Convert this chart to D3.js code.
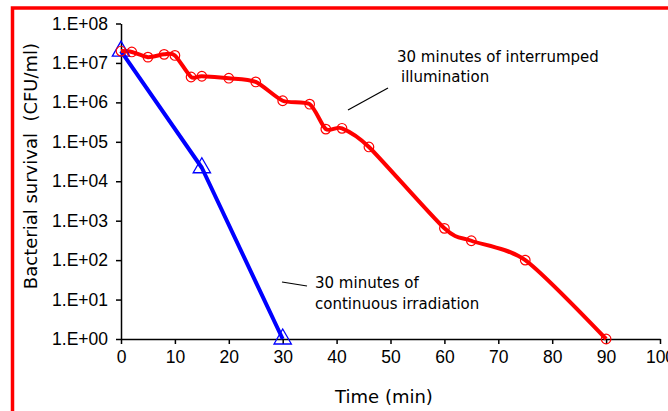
<!DOCTYPE html>
<html lang="en">
<head>
    <meta charset="utf-8">
    <title>Bacterial survival</title>
    <script src="https://d3js.org/d3.v7.min.js" charset="utf-8"></script>
    <style>
        body { margin: 0; background: #fff; }
        svg { display: block; }
    </style>
</head>
<body>

    <script>

    // interrupted illumination (red, circles)
    var redTimes = [0, 2, 5, 8, 10, 13, 15, 20, 25, 30, 35, 38, 41, 46, 60, 65, 75, 90]
    var redValues = [2.0e7, 1.9e7, 1.4e7, 1.65e7, 1.55e7, 4.4e6, 4.6e6, 4.1e6, 3.3e6, 1.1e6, 9.0e5, 2.1e5, 2.2e5, 7.4e4, 640, 310, 100, 1]

    // continuous irradiation (blue, triangles)
    var blueTimes = [0, 15, 30]
    var blueValues = [2.0e7, 2.2e4, 1]

    var xTicks = [0, 10, 20, 30, 40, 50, 60, 70, 80, 90, 100]
    var yTicks = [1e0, 1e1, 1e2, 1e3, 1e4, 1e5, 1e6, 1e7, 1e8]
    var yTickLabels = ["1.E+00", "1.E+01", "1.E+02", "1.E+03", "1.E+04", "1.E+05", "1.E+06", "1.E+07", "1.E+08"]

    var w = 668
    var h = 411

    var svg = d3.select("body").append("svg").attr("width", w).attr("height", h)

    // red frame that runs off the picture
    svg.append("rect").attr("x", 12.5).attr("y", 8).attr("width", 700).attr("height", 500)
        .attr("fill", "none").attr("stroke", "#ff0000").attr("stroke-width", 3.5)

    var x = d3.scaleLinear().domain([0, 100]).range([121, 660])
    var y = d3.scaleLog().domain([1, 1e8]).range([339, 23.5])

    var xAxis = d3.axisBottom(x).tickValues(xTicks).tickSize(5).tickSizeOuter(0).tickPadding(7)
    var yAxis = d3.axisLeft(y).tickValues(yTicks).tickSize(5).tickSizeOuter(0).tickPadding(8)
        .tickFormat(function (d, i) { return yTickLabels[i] })

    svg.append("g").attr("transform", "translate(0,339)").call(xAxis)
    svg.append("g").attr("transform", "translate(121,0)").call(yAxis)

    svg.selectAll(".domain, .tick line").attr("stroke", "#000").attr("stroke-width", 1.5)
    svg.selectAll(".tick text").attr("fill", "#000").attr("font-family", "'Liberation Sans', Arial, sans-serif").attr("font-size", 17.5)

    // axis titles
    svg.append("text").attr("x", 384).attr("y", 403).attr("text-anchor", "middle")
        .attr("font-family", "'DejaVu Sans', Verdana, sans-serif").attr("font-size", 18).text("Time (min)")

    svg.append("text").attr("transform", "translate(37,166) rotate(-90)").attr("text-anchor", "middle")
        .attr("font-family", "'DejaVu Sans', Verdana, sans-serif").attr("font-size", 18)
        .style("white-space", "pre").text("Bacterial survival  (CFU/ml)")

    var redData = redTimes.map(function (t, i) { return {t: t, v: redValues[i]} })
    var blueData = blueTimes.map(function (t, i) { return {t: t, v: blueValues[i]} })

    var line = d3.line()
        .x(function (d) { return x(d.t) })
        .y(function (d) { return y(d.v) })
        .curve(d3.curveCardinal.tension(0.25))

    var blueLine = d3.line()
        .x(function (d) { return x(d.t) })
        .y(function (d) { return y(d.v) })

    svg.append("path").datum(blueData).attr("d", blueLine).attr("fill", "none")
        .attr("stroke", "#0000ff").attr("stroke-width", 4).attr("stroke-linejoin", "round")

    svg.append("path").datum(redData).attr("d", line).attr("fill", "none")
        .attr("stroke", "#ff0000").attr("stroke-width", 4).attr("stroke-linejoin", "round")

    svg.selectAll(".blueMark").data(blueData).enter().append("path")
        .attr("transform", function (d) { return "translate(" + x(d.t) + "," + y(d.v) + ")" })
        .attr("d", d3.symbol().type(d3.symbolTriangle).size(130))
        .attr("fill", "none").attr("stroke", "#0000ff").attr("stroke-width", 1.3)

    svg.selectAll(".redMark").data(redData).enter().append("circle")
        .attr("cx", function (d) { return x(d.t) })
        .attr("cy", function (d) { return y(d.v) })
        .attr("r", 4.8)
        .attr("fill", "none").attr("stroke", "#ff0000").attr("stroke-width", 1.2)

    // annotations
    var ann = svg.append("g").attr("font-family", "'DejaVu Sans', Verdana, sans-serif").attr("font-size", 15).attr("fill", "#000")
    ann.append("text").attr("x", 397).attr("y", 62).text("30 minutes of interrumped")
    ann.append("text").attr("x", 401).attr("y", 82).text("illumination")
    ann.append("text").attr("x", 315).attr("y", 288).text("30 minutes of")
    ann.append("text").attr("x", 315).attr("y", 309).text("continuous irradiation")

    svg.append("line").attr("x1", 348).attr("y1", 110).attr("x2", 388).attr("y2", 88).attr("stroke", "#000").attr("stroke-width", 1.2)
    svg.append("line").attr("x1", 282).attr("y1", 282).attr("x2", 307).attr("y2", 286).attr("stroke", "#000").attr("stroke-width", 1.2)

    </script>

</body>
</html>
